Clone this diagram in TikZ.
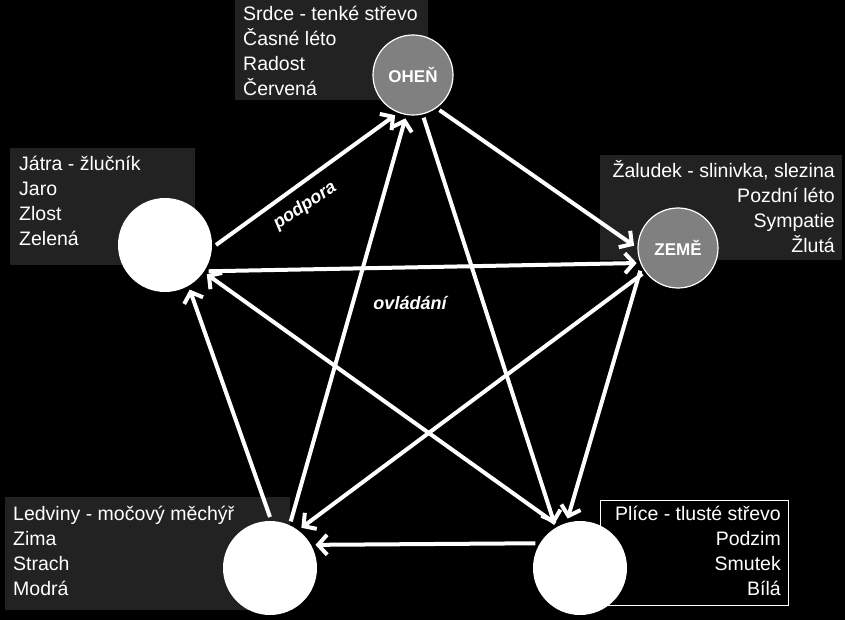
\documentclass[tikz,border=0pt]{standalone}
\usepackage{fontspec}
\setmainfont{Liberation Sans}
\usetikzlibrary{arrows.meta}
\definecolor{boxgray}{RGB}{34,34,34}
\definecolor{elgray}{RGB}{128,128,128}
\tikzset{
    % arrow between elements
    arr/.style={
           -{Straight Barb[length=9pt,width=20pt,line width=4pt]},
           line width=4pt, white},
    % white element circle
    elem/.style={
           circle, fill=white, minimum size=94pt, inner sep=0pt, outer sep=4pt},
    % gray element circle with label
    elemg/.style={
           circle, fill=elgray, draw=white, line width=1.2pt,
           minimum size=80pt, inner sep=0pt, outer sep=4pt,
           text=white, font=\fontsize{17}{18}\selectfont\bfseries},
    % info box background
    infobox/.style={
           fill=boxgray, inner sep=0pt},
    % info text
    info/.style={
           text=white, inner sep=0pt,
           font=\fontsize{19.5}{25}\selectfont},
    lbl/.style={
           text=white, font=\fontsize{18}{20}\selectfont\bfseries\itshape}
}
\begin{document}
\begin{tikzpicture}[x=1pt,y=-1pt]
  \fill[black] (0,0) rectangle (845,620);
  \useasboundingbox (0,0) rectangle (845,620);

  % info boxes
  \node[infobox, anchor=north west, minimum width=193pt, minimum height=100pt] (fire-box) at (235,0) {};
  \node[info, anchor=north west, align=left] (fire-txt) at (243,6) {Srdce - tenké střevo\\Časné léto\\Radost\\Červená};
  \node[infobox, anchor=north west, minimum width=185pt, minimum height=117pt] (wood-box) at (10,148) {};
  \node[info, anchor=north west, align=left] (wood-txt) at (19,156) {Játra - žlučník\\Jaro\\Zlost\\Zelená};
  \node[infobox, anchor=north east, minimum width=242pt, minimum height=105pt] (earth-box) at (842,155) {};
  \node[info, anchor=north east, align=right] (earth-txt) at (835,160) {Žaludek - slinivka, slezina\\Pozdní léto\\Sympatie\\Žlutá};
  \node[infobox, anchor=north west, fill=black, draw=white, line width=0.8pt, minimum width=188pt, minimum height=105pt] (metal-box) at (600,500) {};
  \node[info, anchor=north east, align=right] (metal-txt) at (781,506) {Plíce - tlusté střevo\\Podzim\\Smutek\\Bílá};
  \node[infobox, anchor=north west, minimum width=285pt, minimum height=113pt] (water-box) at (5,497) {};
  \node[info, anchor=north west, align=left] (water-txt) at (13,506) {Ledviny - močový měchýř\\Zima\\Strach\\Modrá};

  % elements
  \node[elemg] (fire) at (413,75) {OHEŇ};
  \node[elemg] (earth) at (678,248) {ZEMĚ};
  \node[elem] (wood) at (165,245) {};
  \node[elem] (metal) at (580,568) {};
  \node[elem] (water) at (270,568) {};

  % support cycle
  \draw[arr] (wood.0) -- (fire.246);
  \draw[arr] (fire.307) -- (earth.177);
  \draw[arr] (earth.211) -- (metal.104);
  \draw[arr] (metal.151) -- (water.27);
  \draw[arr] (water.90) -- (wood.299);

  % control cycle
  \draw[arr] (wood.329) -- (earth.200);
  \draw[arr] (fire.284) -- (metal.120);
  \draw[arr] (earth.216) -- (water.52);
  \draw[arr] (metal.119) -- (wood.325);
  \draw[arr] (water.66) -- (fire.260);

  \node[lbl, rotate=34] (podpora) at (305,206) {podpora};
  \node[lbl] (ovladani) at (410,303) {ovládání};
\end{tikzpicture}
\end{document}
